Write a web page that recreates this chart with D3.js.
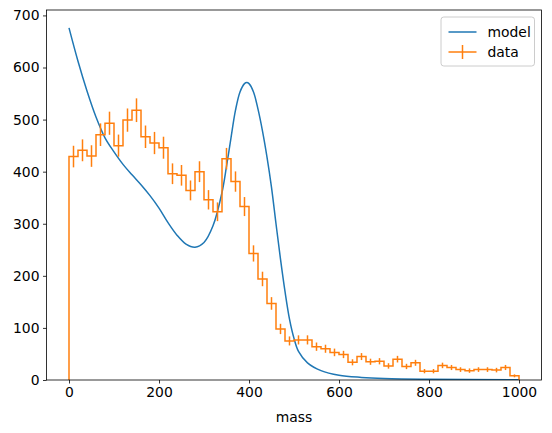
<!DOCTYPE html>
<html>
<head>
<meta charset="utf-8">
<script src="https://cdn.jsdelivr.net/npm/d3@7"></script>
<style>
  html, body { margin: 0; padding: 0; background: #fff; }
  svg { display: block; }
  text { font-family: "DejaVu Sans", sans-serif; fill: #000; }
</style>
</head>
<body>
<svg id="chart" width="552" height="433"></svg>
<script>
// ---- data ----
const binEdges = d3.range(0, 1001, 20); // 51 edges, 50 bins
const dataCounts = [429, 441, 430, 471, 493, 450, 499, 518, 467, 455,
                    446, 396, 393, 364, 400, 346, 323, 425, 381, 333,
                    243, 194, 147, 98, 75, 77, 77, 64, 60, 53,
                    49, 34, 45, 35, 36, 27, 40, 26, 33, 17,
                    17, 28, 24, 20, 18, 20, 20, 19, 24, 8];
const dataErrors = dataCounts.map(v => Math.sqrt(v));
const modelMass = [0, 20, 40, 60, 80, 100, 120, 140, 160, 180, 200, 220, 240, 260, 280,
                   300, 320, 340, 350, 360, 370, 380, 390, 395, 400, 410, 420, 430, 440,
                   450, 460, 470, 480, 490, 500, 510, 530, 560, 600, 650, 700, 800, 1000];
const modelValues = [676, 612, 555, 505, 465, 438, 414, 394, 375, 354, 330, 302, 278, 261, 255,
                     264, 296, 360, 410, 465, 518, 553, 569, 571, 569, 553, 520, 478, 428,
                     370, 300, 232, 170, 117, 80, 55, 33, 18, 9, 5, 3, 1.5, 0.5];
const xTicks = [0, 200, 400, 600, 800, 1000];
const yTicks = [0, 100, 200, 300, 400, 500, 600, 700];
const seriesNames = ["model", "data"];
const seriesColors = ["#1f77b4", "#ff7f0e"];

// ---- layout ----
const svg = d3.select("#chart");
const L = 46.5, R = 541.5, T = 10, B = 380;
const x = d3.scaleLinear().domain([-50, 1050]).range([L, R]);
const y = d3.scaleLinear().domain([0, 710.4]).range([B, T]);
const fs = 13.9;

const plot = svg.append("g");
const clipId = "clip";
svg.append("defs").append("clipPath").attr("id", clipId)
  .append("rect").attr("x", L).attr("y", T).attr("width", R - L).attr("height", B - T);

// model line
plot.append("path")
  .attr("clip-path", `url(#${clipId})`)
  .datum(modelMass.map((m, i) => [m, modelValues[i]]))
  .attr("fill", "none")
  .attr("stroke", seriesColors[0])
  .attr("stroke-width", 1.5)
  .attr("stroke-linejoin", "round")
  .attr("d", d3.line().x(d => x(d[0])).y(d => y(d[1])).curve(d3.curveCatmullRom.alpha(0.5)));

// data stairs
const stairPts = [[binEdges[0], 0]];
dataCounts.forEach((v, i) => {
  stairPts.push([binEdges[i], v]);
  stairPts.push([binEdges[i + 1], v]);
});
stairPts.push([binEdges[binEdges.length - 1], 0]);
plot.append("path")
  .datum(stairPts)
  .attr("fill", "none")
  .attr("stroke", seriesColors[1])
  .attr("stroke-width", 1.5)
  .attr("stroke-linejoin", "miter")
  .attr("d", d3.line().x(d => x(d[0])).y(d => y(d[1])));

// error bars
plot.append("g").selectAll("line")
  .data(dataCounts)
  .join("line")
  .attr("x1", (d, i) => x((binEdges[i] + binEdges[i + 1]) / 2))
  .attr("x2", (d, i) => x((binEdges[i] + binEdges[i + 1]) / 2))
  .attr("y1", (d, i) => y(d - dataErrors[i]))
  .attr("y2", (d, i) => y(d + dataErrors[i]))
  .attr("stroke", seriesColors[1])
  .attr("stroke-width", 1.5);

// axes
const xAxis = d3.axisBottom(x).tickValues(xTicks).tickSize(3.5).tickPadding(3.5).tickFormat(d3.format("d"));
const yAxis = d3.axisLeft(y).tickValues(yTicks).tickSize(3.5).tickPadding(3.5).tickFormat(d3.format("d"));
const gx = svg.append("g").attr("transform", `translate(0,${B})`).call(xAxis);
const gy = svg.append("g").attr("transform", `translate(${L},0)`).call(yAxis);
[gx, gy].forEach(g => {
  g.select(".domain").remove();
  g.selectAll(".tick line").attr("stroke", "#000").attr("stroke-width", 0.8);
  g.selectAll(".tick text").attr("font-size", fs).attr("fill", "#000")
    .attr("font-family", "DejaVu Sans, sans-serif");
});

// spines
svg.append("rect").attr("x", L).attr("y", T).attr("width", R - L).attr("height", B - T)
  .attr("fill", "none").attr("stroke", "#000").attr("stroke-width", 0.8);

// x label
svg.append("text").attr("x", (L + R) / 2).attr("y", 422)
  .attr("text-anchor", "middle").attr("font-size", fs).text("mass");

// legend
const lg = svg.append("g");
const lgX = 441, lgY = 17, lgW = 93.5, lgH = 49;
lg.append("rect").attr("x", lgX).attr("y", lgY).attr("width", lgW).attr("height", lgH)
  .attr("rx", 2.8).attr("fill", "#fff").attr("fill-opacity", 0.8)
  .attr("stroke", "#cccccc").attr("stroke-width", 1);
const rowY = [32, 52];
const hx1 = 448.5, hx2 = 476.5;
lg.append("line").attr("x1", hx1).attr("x2", hx2).attr("y1", rowY[0]).attr("y2", rowY[0])
  .attr("stroke", seriesColors[0]).attr("stroke-width", 1.5);
lg.append("line").attr("x1", hx1).attr("x2", hx2).attr("y1", rowY[1]).attr("y2", rowY[1])
  .attr("stroke", seriesColors[1]).attr("stroke-width", 1.5);
lg.append("line").attr("x1", (hx1 + hx2) / 2).attr("x2", (hx1 + hx2) / 2)
  .attr("y1", rowY[1] - 7).attr("y2", rowY[1] + 7)
  .attr("stroke", seriesColors[1]).attr("stroke-width", 1.5);
seriesNames.forEach((n, i) => {
  lg.append("text").attr("x", 487.5).attr("y", rowY[i]).attr("dy", "0.35em")
    .attr("font-size", fs).text(n);
});
</script>
</body>
</html>
